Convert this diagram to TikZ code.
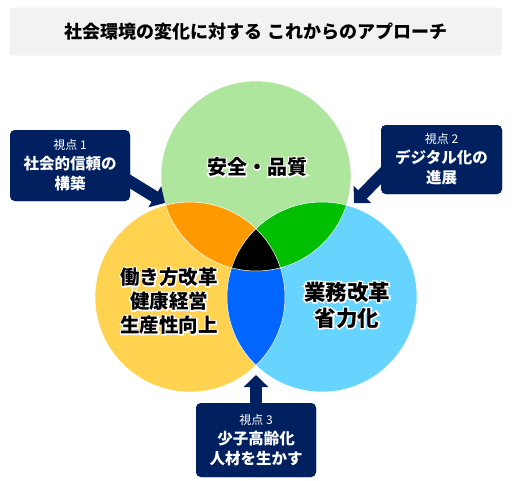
\documentclass[tikz,border=0pt]{standalone}
\usepackage{fontspec}
\setmainfont{Noto Sans CJK JP}
\newfontfamily\glowfont{Noto Sans CJK JP Bold}[FakeBold=14]
\usetikzlibrary{arrows.meta}

\definecolor{titlegray}{HTML}{F2F2F2}
\definecolor{navy}{HTML}{002060}
\definecolor{safegreen}{HTML}{ADE69C}
\definecolor{workyellow}{HTML}{FFD34F}
\definecolor{bizblue}{HTML}{66D4FF}
\definecolor{lensorange}{HTML}{FF9900}
\definecolor{lensgreen}{HTML}{00BF00}
\definecolor{lensblue}{HTML}{0066FF}

\newcommand{\vlabel}[1]{{\mdseries\fontsize{12}{14}\selectfont #1}}

\begin{document}
\begin{tikzpicture}[x=1pt,y=-1pt,
    viewbox/.style={fill=navy,rounded corners=5pt,text=white,align=center,inner sep=0pt,
        minimum width=120pt,minimum height=71pt,font=\bfseries\fontsize{15.5}{20}\selectfont},
    bigarrow/.style={navy,line width=12pt,-{Triangle[width=24pt,length=12pt]}},
    circletext/.style={align=center,font=\bfseries\fontsize{20}{24}\selectfont},
    glowtext/.style={align=center,text=white,font=\glowfont\fontsize{20}{24}\selectfont}]

    \useasboundingbox (0,0) rectangle (512,480);

    %title bar
    \node[fill=titlegray,rounded corners=3pt,minimum width=492pt,minimum height=48pt,
        font=\bfseries\fontsize{18}{20}\selectfont] (title) at (256,31.5)
        {社会環境の変化に対する これからのアプローチ};

    %the three circles and their overlaps
    \coordinate (cg) at (256,176);
    \coordinate (cy) at (190,297);
    \coordinate (cb) at (322,297);
    \fill[safegreen] (cg) circle (95);
    \fill[workyellow] (cy) circle (95);
    \fill[bizblue] (cb) circle (95);
    \begin{scope}
        \clip (cy) circle (95);
        \fill[lensblue] (cb) circle (95);
    \end{scope}
    \begin{scope}
        \clip (cg) circle (95);
        \fill[lensorange] (cy) circle (95);
        \fill[lensgreen] (cb) circle (95);
        \clip (cy) circle (95);
        \fill[black] (cb) circle (95);
    \end{scope}
    \draw[white,line width=0.5pt] (cg) circle (95) (cy) circle (95) (cb) circle (95);

    %circle texts with a white halo behind
    \node[glowtext] (safeglow) at (257,167) {安全・品質};
    \node[circletext] (safe) at (safeglow) {安全・品質};
    \node[glowtext,font=\glowfont\fontsize{19.5}{24}\selectfont] (workglow) at (169,301)
        {働き方改革\\健康経営\\生産性向上};
    \node[circletext,font=\bfseries\fontsize{19.5}{24}\selectfont] (work) at (workglow)
        {働き方改革\\健康経営\\生産性向上};
    \node[glowtext,font=\glowfont\fontsize{21.5}{26}\selectfont] (bizglow) at (347,305)
        {業務改革\\省力化};
    \node[circletext,font=\bfseries\fontsize{21.5}{26}\selectfont] (biz) at (bizglow)
        {業務改革\\省力化};

    %viewpoints
    \coordinate (tip1) at (165,203);
    \coordinate (tip2) at (354,203);
    \coordinate (tip3) at (256,375);
    \node[viewbox] (v1) at (70,165.5) {};
    \node[viewbox,minimum width=121pt,minimum height=69pt] (v2) at (441.5,159.5) {};
    \node[viewbox,minimum height=74pt] (v3) at (256,440) {};
    \draw[bigarrow,shorten <=-8pt] (v1.-15) -- (tip1);
    \draw[bigarrow,shorten <=-8pt] (v2.195) -- (tip2);
    \draw[bigarrow,shorten <=-8pt] (v3.north) -- (tip3);
    \node[viewbox] (v1t) at (v1) {\vlabel{視点 1}\\社会的信頼の\\構築};
    \node[viewbox,minimum width=121pt,minimum height=69pt] (v2t) at (v2) {\vlabel{視点 2}\\デジタル化の\\進展};
    \node[viewbox,minimum height=74pt] (v3t) at (v3) {\vlabel{視点 3}\\少子高齢化\\人材を生かす};
\end{tikzpicture}
\end{document}
